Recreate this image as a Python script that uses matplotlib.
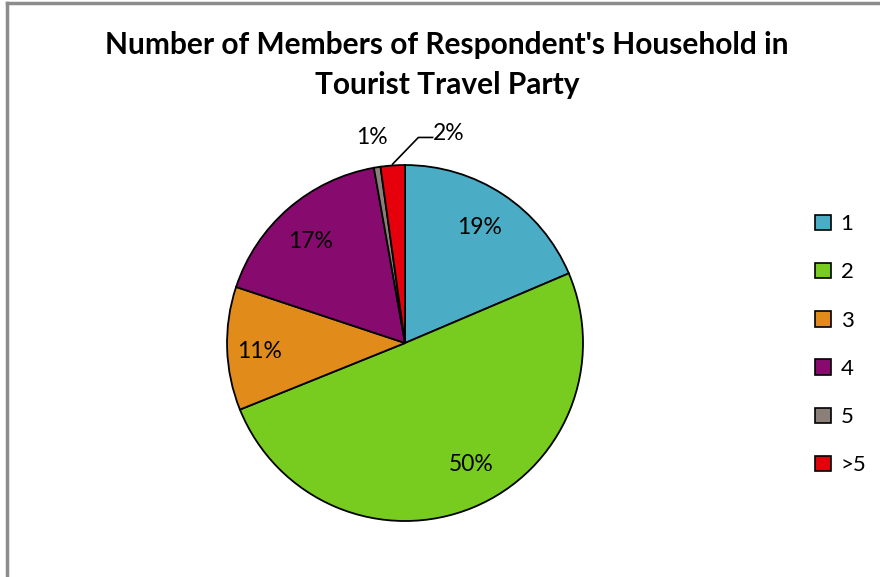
import matplotlib.pyplot as plt
from matplotlib.lines import Line2D
from matplotlib.patches import Patch

plt.rcParams['font.family'] = ['Lato', 'DejaVu Sans']

# household members in the travel party, share of respondents (%)
categories = ['1', '2', '3', '4', '5', '>5']
shares = [18.6, 50.3, 11.2, 17.1, 0.6, 2.2]
colors = ['#4bacc6', '#77cc1f', '#e08b1a', '#870a6e', '#8a8079', '#e6000b']

fig = plt.figure(figsize=(8.8, 5.77), dpi=100)

# chart frame (only top and left edges visible)
fig.add_artist(Line2D([0.0075, 1.0], [0.9945, 0.9945], color='#8c8c8c', lw=2.5))
fig.add_artist(Line2D([0.0075, 0.0075], [0.0, 0.9945], color='#8c8c8c', lw=2.5))

ax = fig.add_axes([0.258, 0.097, 0.4045, 0.617])
wedges, texts = ax.pie(shares, colors=colors, startangle=90, counterclock=False,
                       wedgeprops=dict(edgecolor='black', linewidth=1.3))
ax.set_aspect('equal')
ax.set_xlim(-1, 1)
ax.set_ylim(-1, 1)

# percentage labels, placed inside the larger slices
label_pos = {0: (0.42, 0.65), 1: (0.37, -0.68), 2: (-0.82, -0.05), 3: (-0.53, 0.57)}
for i, (x, y) in label_pos.items():
    ax.text(x, y, f'{shares[i]:.0f}%', ha='center', va='center', fontsize=16.5)

ax.text(-0.185, 1.155, f'{shares[4]:.0f}%', ha='center', va='center', fontsize=16.5)
ax.text(0.245, 1.175, f'{shares[5]:.0f}%', ha='center', va='center', fontsize=16.5)
ax.plot([-0.07, 0.075, 0.155], [1.005, 1.155, 1.155], color='black', lw=1.2,
        clip_on=False)

fig.text(0.508, 0.922, "Number of Members of Respondent's Household in",
         ha='center', va='center', fontsize=21.5, fontweight='bold')
fig.text(0.508, 0.853, 'Tourist Travel Party',
         ha='center', va='center', fontsize=21.5, fontweight='bold')

handles = [Patch(facecolor=c, edgecolor='black', linewidth=1.2) for c in colors]
fig.legend(handles, categories, loc='center left', bbox_to_anchor=(0.916, 0.4025),
           frameon=False, fontsize=16, handlelength=0.7, handleheight=0.7,
           handletextpad=0.45, labelspacing=1.27, borderaxespad=0)

fig.savefig('out.png', dpi=100)
